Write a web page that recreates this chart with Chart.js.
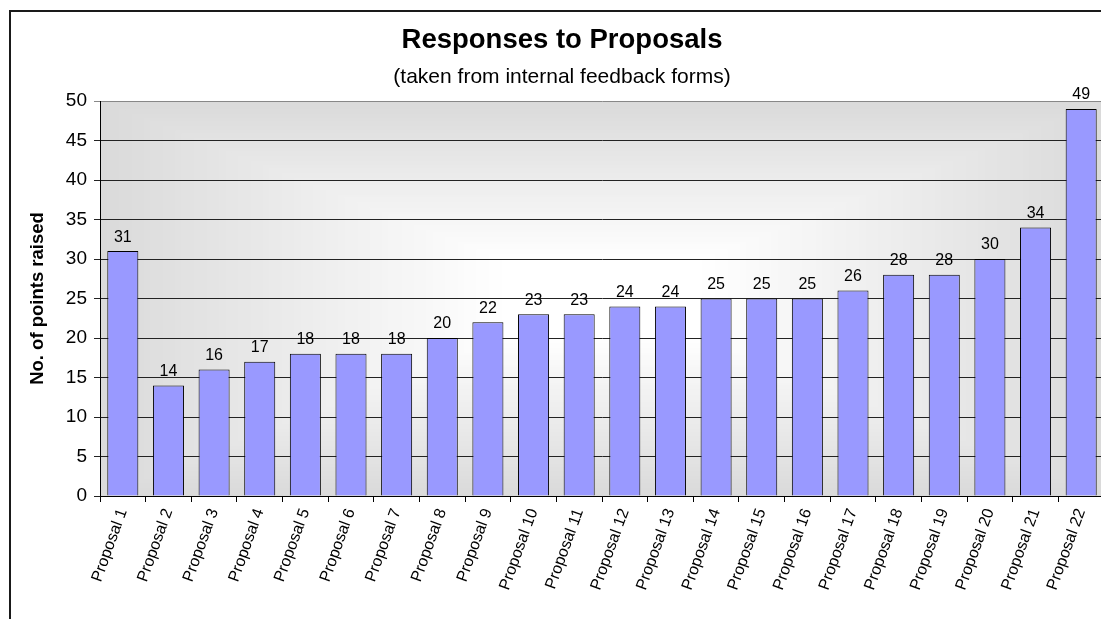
<!DOCTYPE html>
<html>
<head>
<meta charset="utf-8">
<title>Responses to Proposals</title>
<script src="https://cdn.jsdelivr.net/npm/chart.js@4.4.1/dist/chart.umd.min.js"></script>
<style>
	html, body { margin: 0; padding: 0; overflow: hidden; background: #fff; }
	#marco { position: absolute; left: 9px; top: 10px; width: 1200px; height: 700px; border-left: 2px solid #1a1a1a; border-top: 2px solid #1a1a1a; pointer-events: none; }
	#grafica { position: absolute; left: 0; top: 0; }
</style>
</head>
<body>
<canvas id="grafica" width="1104" height="619"></canvas>
<div id="marco"></div>
<script>
var propuestas = ["Proposal 1", "Proposal 2", "Proposal 3", "Proposal 4", "Proposal 5", "Proposal 6", "Proposal 7", "Proposal 8", "Proposal 9", "Proposal 10", "Proposal 11", "Proposal 12", "Proposal 13", "Proposal 14", "Proposal 15", "Proposal 16", "Proposal 17", "Proposal 18", "Proposal 19", "Proposal 20", "Proposal 21", "Proposal 22"];
var puntos = [31, 14, 16, 17, 18, 18, 18, 20, 22, 23, 23, 24, 24, 25, 25, 25, 26, 28, 28, 30, 34, 49];
var ejeY = { min: 0, max: 50, paso: 5 };

var fuente = "'Liberation Sans', Arial, sans-serif";

// fondo degradado del area de la grafica (gris en los bordes, blanco al centro)
var fondoDegradado = {
	id: 'fondoDegradado',
	beforeDraw: function(chart){
		var a = chart.chartArea;
		var c = chart.ctx;
		var pasos = 80;
		c.save();
		for (var i = 0; i < pasos; i++) {
			var f = i / pasos;
			var w = (a.right - a.left) * (1 - f);
			var h = (a.bottom - a.top) * (1 - f);
			var cx = (a.left + a.right) / 2;
			var cy = (a.top + a.bottom) / 2;
			var t = Math.min(1, f * 1.25);
			var v = Math.round(218 + (255 - 218) * t);
			c.fillStyle = 'rgb(' + v + ',' + v + ',' + v + ')';
			c.fillRect(cx - w / 2, cy - h / 2, w, h);
		}
		c.restore();
	}
};

// valores encima de cada barra
var etiquetasValor = {
	id: 'etiquetasValor',
	afterDatasetsDraw: function(chart){
		var c = chart.ctx;
		var meta = chart.getDatasetMeta(0);
		c.save();
		c.font = '16px ' + fuente;
		c.fillStyle = '#000';
		c.textAlign = 'center';
		c.textBaseline = 'bottom';
		meta.data.forEach(function(barra, i){
			c.fillText(chart.data.datasets[0].data[i], barra.x, barra.y - 6);
		});
		c.restore();
	}
};

var ctx = document.getElementById('grafica').getContext('2d');
var grafica = new Chart(ctx, {
	type: 'bar',
	data: {
		labels: propuestas,
		datasets: [
			{
				label: 'No. of points raised',
				data: puntos,
				backgroundColor: '#9999ff',
				borderColor: '#000000',
				borderWidth: 1,
				categoryPercentage: 1,
				barPercentage: 0.68,
			},
		],
	},
	options: {
		responsive: false,
		animation: false,
		layout: {
			padding: { left: 20, right: 0, top: 0, bottom: 0 }
		},
		plugins: {
			legend: { display: false },
			tooltip: { enabled: false },
			title: {
				display: true,
				text: 'Responses to Proposals',
				color: '#000',
				font: { family: fuente, size: 27.5, weight: 'bold' },
				padding: { top: 23.5, bottom: 0 }
			},
			subtitle: {
				display: true,
				text: '(taken from internal feedback forms)',
				color: '#000',
				font: { family: fuente, size: 21 },
				padding: { top: 8, bottom: 11.3 }
			}
		},
		scales: {
			y: {
				min: ejeY.min,
				max: ejeY.max,
				afterFit: function(scale){ scale.width = 80; },
				ticks: {
					stepSize: ejeY.paso,
					color: '#000',
					padding: 7,
					font: { family: fuente, size: 19 }
				},
				grid: {
					color: function(c){ return c.tick && c.tick.value === ejeY.max ? '#888' : '#222'; },
					lineWidth: 1,
					tickLength: 6
				},
				border: { color: '#000', width: 1 },
				title: {
					display: true,
					text: 'No. of points raised',
					color: '#000',
					font: { family: fuente, size: 18.5, weight: 'bold' },
					padding: { top: 7, bottom: 0 }
				}
			},
			x: {
				afterFit: function(scale){ scale.height = 123; },
				ticks: {
					color: '#000',
					autoSkip: false,
					minRotation: 70,
					maxRotation: 70,
					padding: 4,
					font: { family: fuente, size: 16 }
				},
				grid: {
					offset: true,
					drawOnChartArea: false,
					color: '#000',
					tickLength: 6
				},
				border: { color: '#000', width: 1 }
			}
		}
	},
	plugins: [fondoDegradado, etiquetasValor]
});
</script>
</body>
</html>
